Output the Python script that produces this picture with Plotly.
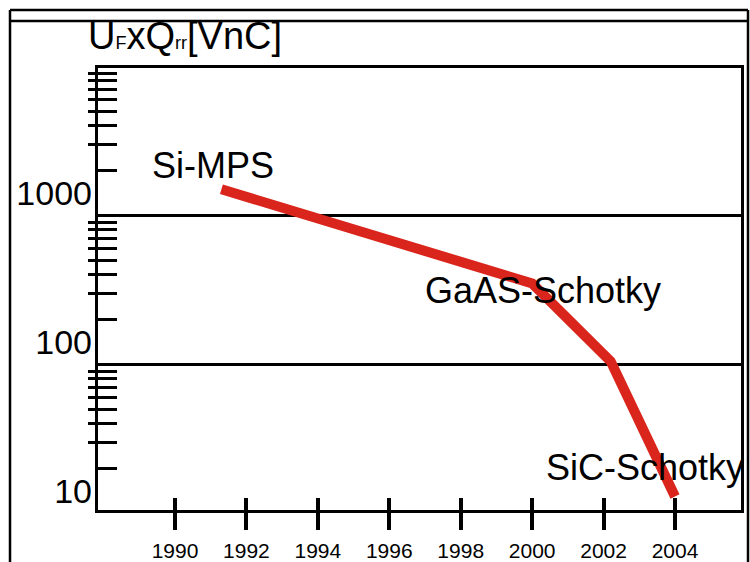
import math
import plotly.graph_objects as go

# ---- data ----
years = [1991.3, 2000.0, 2002.2, 2004.0]
values = [1500, 350, 105, 13]
point_labels = ["Si-MPS", "GaAS-Schotky", "SiC-Schotky"]
label_years = [1991.06, 2000.3, 2003.16]
label_values = [2150, 316, 20.5]
x_ticks = [1990, 1992, 1994, 1996, 1998, 2000, 2002, 2004]
y_labels = [10, 100, 1000]
grid_values = [100, 1000]
decades = [10, 100, 1000]

# ---- geometry ----
W, H = 750, 562
PL, PR, PT, PB = 98, 741, 68, 510
x_range = [1987.844, 2005.848]
y_range = [1.0235, 3.990]
label_shift = 0.148
FONT = "Liberation Sans, Arial, sans-serif"
RED = "rgb(218,37,29)"

minor_in = [k * d for d in decades for k in range(2, 10)]
minor_out = [k * d for d in decades for k in range(3, 10)]

def px(x):
    return x / W

def py(y):
    return 1 - y / H

fig = go.Figure()
fig.add_trace(go.Scatter(x=years, y=values, mode="lines",
                         line=dict(color=RED, width=10),
                         xaxis="x", yaxis="y", showlegend=False, hoverinfo="skip"))
# empty traces to attach overlay axes
for xa, ya in [("x", "y2"), ("x", "y3"), ("x", "y4"), ("x2", "y")]:
    fig.add_trace(go.Scatter(x=[], y=[], xaxis=xa, yaxis=ya, showlegend=False,
                             hoverinfo="skip"))

xdom = [px(PL), px(PR)]
ydom = [py(PB), py(PT)]

common_y = dict(type="log", domain=ydom, anchor="x", zeroline=False,
                showgrid=False, tickmode="array", automargin=False)

fig.update_layout(
    width=W, height=H, autosize=False,
    margin=dict(l=0, r=0, t=0, b=0, pad=0),
    paper_bgcolor="white", plot_bgcolor="white",
    font=dict(family=FONT, color="black"),
    xaxis=dict(domain=xdom, range=x_range, anchor="y", tickmode="array",
               tickvals=x_ticks, ticktext=[str(t) for t in x_ticks],
               ticks="outside", ticklen=17, tickwidth=3.5, tickcolor="black",
               tickfont=dict(size=21, family=FONT, color="black"),
               ticklabelstandoff=3, automargin=False,
               showline=True, linewidth=3, linecolor="black", mirror=True,
               showgrid=False, zeroline=False),
    xaxis2=dict(range=x_range, overlaying="x", anchor="y", tickmode="array",
                tickvals=x_ticks, ticks="inside", ticklen=12, tickwidth=3.5,
                tickcolor="black", showticklabels=False, showline=False,
                showgrid=False, zeroline=False, automargin=False),
    yaxis=dict(**common_y, range=y_range, tickvals=minor_in, ticks="inside",
               ticklen=19, tickwidth=3, tickcolor="black", showticklabels=False,
               showline=True, linewidth=3, linecolor="black", mirror=True),
    yaxis2=dict(**common_y, range=y_range, overlaying="y", tickvals=minor_out,
                ticks="outside", ticklen=9, tickwidth=3, tickcolor="black",
                showticklabels=False, showline=False),
    yaxis3=dict(**common_y, range=y_range, overlaying="y", tickvals=grid_values,
                ticks="", showticklabels=False, showline=False),
    yaxis4=dict(**common_y, range=[y_range[0] - label_shift, y_range[1] - label_shift],
                overlaying="y", tickvals=y_labels, ticktext=[str(v) for v in y_labels],
                ticks="", showline=False, ticklabelstandoff=5,
                tickfont=dict(size=34, family=FONT, color="black")),
)
fig.layout.yaxis3.showgrid = True
fig.layout.yaxis3.gridcolor = "black"
fig.layout.yaxis3.gridwidth = 3

annotations = []
for name, lx, lv in zip(point_labels, label_years, label_values):
    annotations.append(dict(x=lx, y=math.log10(lv), xref="x", yref="y", text=name,
                            showarrow=False, xanchor="center", yanchor="middle",
                            font=dict(size=36, family=FONT, color="black")))
annotations.append(dict(x=px(86), y=py(36), xref="paper", yref="paper",
                        xanchor="left", yanchor="middle", showarrow=False,
                        text="U<span style='font-size:18px'>F</span>xQ<span style='font-size:18px'>rr</span>[VnC]",
                        font=dict(size=38, family=FONT, color="black")))
fig.update_layout(annotations=annotations)

frame = [((10, 10), (748, 10)), ((10, 21), (748, 21)),
         ((10, 10), (10, 562)), ((748, 10), (748, 562))]
fig.update_layout(shapes=[dict(type="line", xref="paper", yref="paper",
                               x0=px(a[0]), y0=py(a[1]), x1=px(b[0]), y1=py(b[1]),
                               line=dict(color="black", width=2.5), layer="above")
                          for a, b in frame])

fig.write_html("out.html")
